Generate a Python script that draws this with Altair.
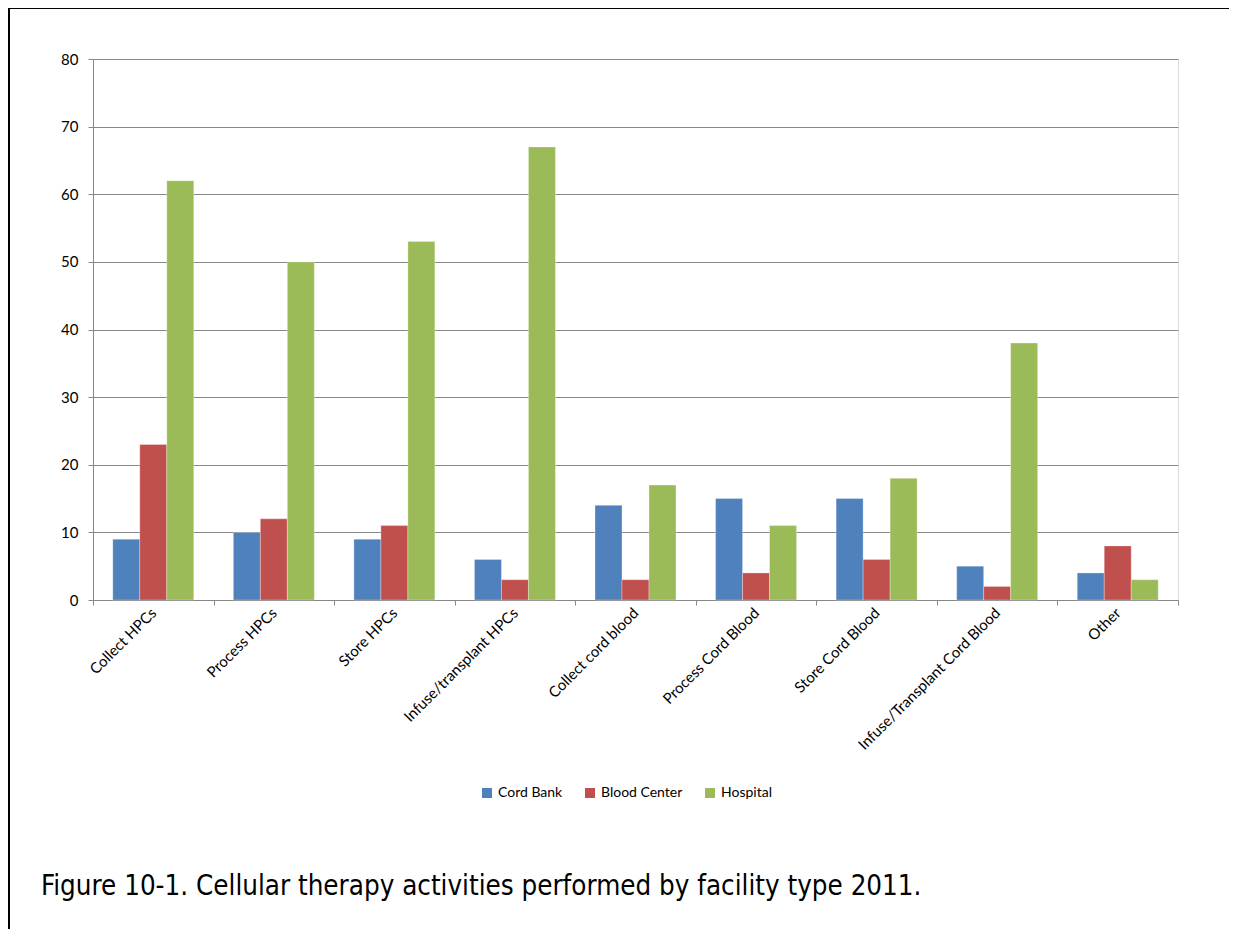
import altair as alt
import pandas as pd

categories = ["Collect HPCs", "Process HPCs", "Store HPCs", "Infuse/transplant HPCs",
              "Collect cord blood", "Process Cord Blood", "Store Cord Blood",
              "Infuse/Transplant Cord Blood", "Other"]
series = ["Cord Bank", "Blood Center", "Hospital"]
cord_bank = [9, 10, 9, 6, 14, 15, 15, 5, 4]
blood_center = [23, 12, 11, 3, 3, 4, 6, 2, 8]
hospital = [62, 50, 53, 67, 17, 11, 18, 38, 3]
colors = ["#4F81BD", "#C0504D", "#9BBB59"]
y_ticks = [0, 10, 20, 30, 40, 50, 60, 70, 80]
caption = "Figure 10-1. Cellular therapy activities performed by facility type 2011."

rows = []
for s, vals in zip(series, [cord_bank, blood_center, hospital]):
    for c, v in zip(categories, vals):
        rows.append({"category": c, "series": s, "value": v})
df = pd.DataFrame(rows)

W, H = 1085, 541
PL, PT = 85, 51
TW, TH = 1221, 921
GRAY = "#888888"
LBL_FONT = "Lato"

bars = alt.Chart(df).mark_bar(stroke="#ffffff", strokeWidth=0.6, strokeOpacity=0.5).encode(
    x=alt.X("category:N", sort=categories,
            scale=alt.Scale(paddingInner=0, paddingOuter=0),
            axis=alt.Axis(title=None, labelAngle=-45, labelAlign="right", labelBaseline="middle",
                          tickBand="extent", tickSize=5, tickColor=GRAY, domainColor=GRAY,
                          labelPadding=5, labelFont=LBL_FONT, labelFontSize=15,
                          labelColor="#000000", grid=False, labelLimit=400)),
    xOffset=alt.XOffset("series:N", sort=series,
                        scale=alt.Scale(paddingInner=0, paddingOuter=0.733)),
    y=alt.Y("value:Q", scale=alt.Scale(domain=[0, 80], nice=False),
            axis=alt.Axis(title=None, values=y_ticks, tickSize=5, tickColor=GRAY,
                          domainColor=GRAY, gridColor=GRAY, grid=True,
                          labelPadding=10, labelFont=LBL_FONT, labelFontSize=15,
                          labelColor="#000000")),
    color=alt.Color("series:N", sort=series,
                    scale=alt.Scale(domain=series, range=colors),
                    legend=alt.Legend(title=None, orient="none", direction="horizontal",
                                      legendX=387, legendY=727, symbolType="square",
                                      symbolSize=100, symbolStrokeWidth=0,
                                      labelFont=LBL_FONT, labelFontSize=14,
                                      labelColor="#000000", labelOffset=4,
                                      columnPadding=20, padding=0)),
)

one = alt.Data(values=[{"k": 1}])

top_border = alt.Chart(one).mark_rule(color="#000000", strokeWidth=2).encode(
    x=alt.value(-PL + 1), x2=alt.value(TW - PL), y=alt.value(-PT)
)
left_border = alt.Chart(one).mark_rule(color="#000000", strokeWidth=2).encode(
    x=alt.value(-PL + 1), y=alt.value(-PT - 1), y2=alt.value(TH - PT)
)
caption_mark = alt.Chart(one).mark_text(
    font="DejaVu Sans Condensed", fontSize=27.5, align="left", baseline="alphabetic",
    color="#000000"
).encode(
    x=alt.value(-52), y=alt.value(836), text=alt.value(caption)
)

chart = alt.layer(bars, top_border, left_border, caption_mark).properties(
    width=W, height=H,
    padding={"left": PL, "top": PT, "right": TW - PL - W, "bottom": TH - PT - H},
    autosize=alt.AutoSizeParams(type="none"),
).configure_view(stroke=None).configure(background="#ffffff")

chart.save("out.html", embed_options={"renderer": "svg", "actions": False})
